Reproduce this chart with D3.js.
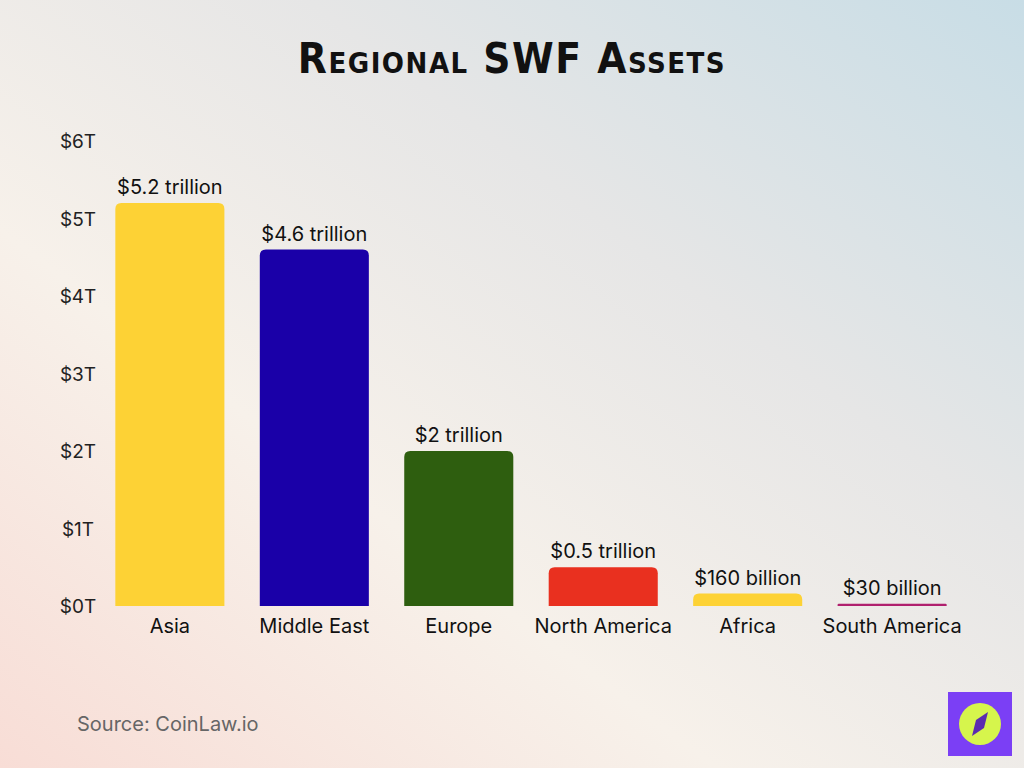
<!DOCTYPE html>
<html>
<head>
<meta charset="utf-8">
<script src="https://cdn.jsdelivr.net/npm/d3@7/dist/d3.min.js"></script>
<style>
  body { margin: 0; }
  svg { display: block; font-family: "Inter", "Noto Sans", sans-serif; }
</style>
</head>
<body>
<div id="main"></div>
<script>
const regions = ["Asia", "Middle East", "Europe", "North America", "Africa", "South America"];
const assets = [5.2, 4.6, 2.0, 0.5, 0.16, 0.03];
const valueLabels = ["$5.2 trillion", "$4.6 trillion", "$2 trillion", "$0.5 trillion", "$160 billion", "$30 billion"];
const colors = ["#fdd235", "#1a00a8", "#2e5e0f", "#e9301f", "#fdd235", "#b0206e"];
const yTicks = [0, 1, 2, 3, 4, 5, 6];

const W = 1024, H = 768;
const svg = d3.select("#main").append("svg").attr("width", W).attr("height", H);

// background
const defs = svg.append("defs");
const g1 = defs.append("linearGradient").attr("id", "bg")
    .attr("x1", "0").attr("y1", "1").attr("x2", "1").attr("y2", "0");
g1.append("stop").attr("offset", "0%").attr("stop-color", "#f8ddd6");
g1.append("stop").attr("offset", "35%").attr("stop-color", "#f7f1ea");
g1.append("stop").attr("offset", "65%").attr("stop-color", "#e6e6e6");
g1.append("stop").attr("offset", "100%").attr("stop-color", "#c8dde6");
svg.append("rect").attr("width", W).attr("height", H).attr("fill", "url(#bg)");

svg.append("text")
    .attr("x", W / 2).attr("y", 73)
    .attr("text-anchor", "middle")
    .attr("font-family", "'DejaVu Sans Condensed', sans-serif")
    .attr("font-weight", "bold")
    .attr("font-size", 42)
    .attr("font-variant", "small-caps")
    .attr("letter-spacing", 1.5)
    .attr("fill", "#111")
    .text("Regional SWF Assets");

const x = d3.scaleBand().domain(regions).range([98, 964]).paddingInner(0.245).paddingOuter(0.12);
const y = d3.scaleLinear().domain([0, 6]).range([606, 141]);

// y axis labels
svg.selectAll(".ytick").data(yTicks).enter().append("text")
    .attr("x", 78).attr("y", d => y(d) + 7)
    .attr("text-anchor", "middle")
    .attr("font-size", 19).attr("fill", "#222")
    .text(d => "$" + d + "T");

const bars = svg.selectAll(".bar").data(regions).enter().append("g");

bars.append("path")
    .attr("fill", (d, i) => colors[i])
    .attr("d", (d, i) => {
        const x0 = x(d), w = x.bandwidth(), yt = y(assets[i]), yb = y(0);
        const r = Math.min(6, (yb - yt) / 2);
        return `M${x0},${yb}V${yt + r}Q${x0},${yt} ${x0 + r},${yt}H${x0 + w - r}Q${x0 + w},${yt} ${x0 + w},${yt + r}V${yb}Z`;
    });

bars.append("text")
    .attr("x", d => x(d) + x.bandwidth() / 2)
    .attr("y", (d, i) => y(assets[i]) - 9)
    .attr("text-anchor", "middle")
    .attr("font-size", 20).attr("fill", "#111")
    .text((d, i) => valueLabels[i]);

bars.append("text")
    .attr("x", d => x(d) + x.bandwidth() / 2)
    .attr("y", 633)
    .attr("text-anchor", "middle")
    .attr("font-size", 20).attr("fill", "#111")
    .text(d => d);

svg.append("text")
    .attr("x", 77).attr("y", 731)
    .attr("font-size", 20).attr("fill", "#666")
    .text("Source: CoinLaw.io");

// logo
const logo = svg.append("g").attr("transform", "translate(948,692)");
logo.append("rect").attr("width", 64).attr("height", 64).attr("fill", "#7b3ff5");
logo.append("circle").attr("cx", 32).attr("cy", 32).attr("r", 21).attr("fill", "#d6f54c");
logo.append("path").attr("d", "M40,20 L36,36 L24,44 L28,28 Z").attr("fill", "#5b2bb0");
</script>
</body>
</html>
